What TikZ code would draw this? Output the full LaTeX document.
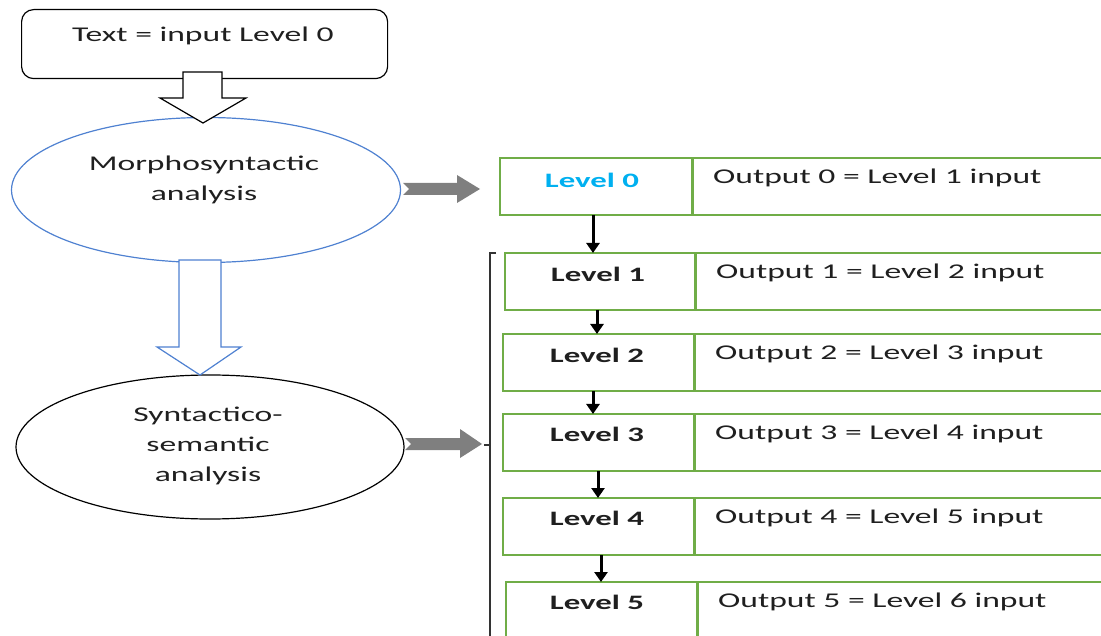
\documentclass[tikz,border=0pt]{standalone}
\usepackage{fontspec}
\setmainfont{Carlito}[FakeStretch=1.6]
\usetikzlibrary{arrows.meta,shapes.geometric,calc}
\definecolor{grn}{HTML}{70AD47}
\definecolor{blueE}{RGB}{79,129,209}
\definecolor{cyanL}{HTML}{00B0F0}
\definecolor{grayA}{HTML}{7F7F7F}
\definecolor{txtc}{HTML}{1F1F1F}
\definecolor{brk}{HTML}{333333}
\tikzset{
  txt/.style={inner sep=0pt, text=txtc, align=center},
  lvltext/.style={inner sep=0pt, text=txtc, font=\fontsize{20.5}{29}\selectfont\bfseries},
  outtext/.style={inner sep=0pt, text=txtc, anchor=west},
  cellbox/.style={draw=grn, line width=1.6pt, inner sep=0pt, outer sep=0pt, anchor=north west},
  divline/.style={draw=grn, line width=3pt},
  smallarr/.style={draw=black, line width=3pt, -{Triangle[width=13pt,length=10pt]}},
  hollow/.style={line width=1.2pt, fill=white, line join=miter},
  grayarrow/.style={fill=grayA, draw=none},
  ellbox/.style={ellipse, inner sep=0pt, line width=1.2pt}
}
\begin{document}
\begin{tikzpicture}[x=1pt,y=-1pt, font=\fontsize{21}{30}\selectfont]
\useasboundingbox (0,0) rectangle (1101,636);
% input box
\node[draw=black, rounded corners=12pt, line width=1.2pt, minimum width=366pt, minimum height=69pt, anchor=north west, inner sep=0pt] (inbox) at (21,9) {};
\node[txt] (intext) at (203,36) {Text = input Level 0};
% ellipses
\node[ellbox, draw=blueE, minimum width=389pt, minimum height=145pt] (morph) at (206,190) {};
\node[txt] (morphT) at (204,180) {Morphosyntactic\\analysis};
\node[ellbox, draw=black, minimum width=388pt, minimum height=144pt] (synt) at (210,447) {};
\node[txt] (syntT) at (208,446) {Syntactico-\\semantic\\analysis};
% hollow arrows
\draw[hollow, draw=black] (183,72) -- (222,72) -- (222,98) -- (246,98) -- (203,123) -- (160,98) -- (183,98) -- cycle;
\draw[hollow, draw=blueE] (179,260) -- (221,260) -- (221,347) -- (241,347) -- (200,375) -- (157,347) -- (179,347) -- cycle;
% gray arrows
\fill[grayarrow] (403,183) -- (457,183) -- (457,175) -- (480,189) -- (457,203) -- (457,195) -- (403,195) -- (409,189) -- cycle;
\fill[grayarrow] (405,438) -- (460,438) -- (460,429) -- (482,444) -- (460,458) -- (460,450) -- (405,450) -- (411,444) -- cycle;
% bracket
\draw[brk, line width=1.5pt] (496,253) -- (490,253) -- (490,645);
\draw[brk, line width=1.5pt] (484,445) -- (490,445);
% level rows
\foreach \i/\l/\t/\b/\d in {0/500/158/215/692, 1/505/253/310/695, 2/503/334/391/694, 3/503/414/471/694, 4/503/498/555/694, 5/506/582/660/697}{
  \node[cellbox, minimum width={\d-\l}, minimum height={\b-\t}] (L\i) at (\l,\t) {};
  \node[cellbox, minimum width={1120-\d}, minimum height={\b-\t}] (O\i) at (\d,\t) {};
  \draw[divline] (L\i.north east) -- (L\i.south east);
  \pgfmathtruncatemacro{\j}{\i+1}
  \node[outtext] (OT\i) at ({\d+21},{\t+20}) {Output \i{} = Level \j{} input};
}
\node[lvltext, text=cyanL] (LT0) at (592,180) {Level 0};
\node[lvltext] (LT1) at (598,274) {Level 1};
\node[lvltext] (LT2) at (597,355) {Level 2};
\node[lvltext] (LT3) at (597,434) {Level 3};
\node[lvltext] (LT4) at (597,518) {Level 4};
\node[lvltext] (LT5) at (597,602) {Level 5};
% small arrows
\draw[smallarr] (593,0 |- L0.south) -- (593,0 |- L1.north);
\draw[smallarr] (597,0 |- L1.south) -- (597,0 |- L2.north);
\draw[smallarr] (593,0 |- L2.south) -- (593,0 |- L3.north);
\draw[smallarr] (598,0 |- L3.south) -- (598,0 |- L4.north);
\draw[smallarr] (601,0 |- L4.south) -- (601,0 |- L5.north);
\end{tikzpicture}
\end{document}
